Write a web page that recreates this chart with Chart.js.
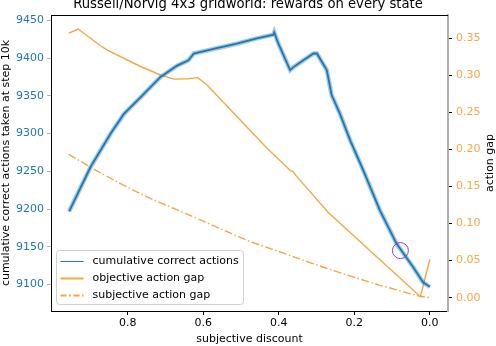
<!DOCTYPE html>
<html>
<head>
<meta charset="utf-8">
<script src="https://cdn.jsdelivr.net/npm/chart.js@4.4.1/dist/chart.umd.min.js"></script>
<style>
  html, body { margin: 0; padding: 0; background: #fff; }
  canvas { display: block; }
</style>
</head>
<body>
<canvas id="gridworldChart" width="496" height="346"></canvas>
<script>
// values
const discountCorrect = [0.955, 0.898, 0.845, 0.810, 0.766, 0.713, 0.669, 0.639, 0.625, 0.564, 0.511, 0.458, 0.414, 0.412, 0.401, 0.370, 0.361, 0.335, 0.308, 0.299, 0.273, 0.260, 0.238, 0.211, 0.176, 0.132, 0.088, 0.044, 0.018, 0.0];
const correctActions = [9197, 9256, 9300, 9326, 9348, 9375, 9390, 9397, 9406, 9413, 9419, 9426, 9431, 9434, 9419, 9384, 9388, 9397, 9406, 9406, 9384, 9351, 9326, 9291, 9251, 9198, 9154, 9123, 9103, 9097];

const discountObjective = [0.956, 0.931, 0.872, 0.854, 0.766, 0.713, 0.678, 0.640, 0.614, 0.590, 0.431, 0.368, 0.362, 0.355, 0.269, 0.025, 0.0];
const objectiveGap = [0.357, 0.3626, 0.340, 0.334, 0.312, 0.3005, 0.295, 0.2955, 0.297, 0.287, 0.2016, 0.171, 0.170, 0.165, 0.115, 0.0013, 0.0518];

const discountSubjective = [0.956, 0.885, 0.795, 0.740, 0.597, 0.476, 0.398, 0.310, 0.222, 0.134, 0.028, 0.0];
const subjectiveGap = [0.1935, 0.172, 0.1476, 0.134, 0.1026, 0.0756, 0.062, 0.046, 0.031, 0.017, 0.002, 0.0];

const markerDiscount = [0.078];
const markerCorrect = [9145];

const xTicks = [0.0, 0.2, 0.4, 0.6, 0.8];
const leftTicks = [9100, 9150, 9200, 9250, 9300, 9350, 9400, 9450];
const rightTicks = [0.00, 0.05, 0.10, 0.15, 0.20, 0.25, 0.30, 0.35];

const BLUE = '#1f77b4';
const ORANGE = '#f5a742';
const FONT = 'DejaVu Sans';
const FS = 11;

function pairs(xs, ys) {
    return xs.map((x, i) => ({ x: x, y: ys[i] }));
}

const legendItems = [
    { label: 'cumulative correct actions', color: BLUE, width: 1, dash: [] },
    { label: 'objective action gap', color: ORANGE, width: 2, dash: [] },
    { label: 'subjective action gap', color: ORANGE, width: 2, dash: [6, 2.5, 2, 2.5] }
];

// top spine, right axis title (reads upwards) and legend box in the lower left corner
const framePlugin = {
    id: 'frame',
    afterDraw(chart) {
        const ctx = chart.ctx;
        const a = chart.chartArea;
        ctx.save();
        ctx.strokeStyle = '#000';
        ctx.lineWidth = 1;
        ctx.beginPath();
        ctx.moveTo(a.left, a.top + 0.5);
        ctx.lineTo(a.right, a.top + 0.5);
        ctx.stroke();

        ctx.save();
        ctx.translate(chart.width - 6, (a.top + a.bottom) / 2);
        ctx.rotate(-Math.PI / 2);
        ctx.font = FS + 'px "' + FONT + '"';
        ctx.fillStyle = '#000';
        ctx.textAlign = 'center';
        ctx.textBaseline = 'middle';
        ctx.fillText('action gap', 0, 0);
        ctx.restore();

        const bx = a.left + 5.5, by = a.bottom - 60.5, bw = 187, bh = 54;
        ctx.beginPath();
        ctx.roundRect(bx, by, bw, bh, 3);
        ctx.fillStyle = 'rgba(255,255,255,0.8)';
        ctx.fill();
        ctx.strokeStyle = '#d0d0d0';
        ctx.stroke();

        ctx.font = FS + 'px "' + FONT + '"';
        ctx.textBaseline = 'middle';
        legendItems.forEach((item, i) => {
            const y = by + 11 + i * 17;
            ctx.beginPath();
            ctx.setLineDash(item.dash);
            ctx.strokeStyle = item.color;
            ctx.lineWidth = item.width;
            ctx.moveTo(bx + 4, y);
            ctx.lineTo(bx + 27, y);
            ctx.stroke();
            ctx.setLineDash([]);
            ctx.fillStyle = '#000';
            ctx.fillText(item.label, bx + 36, y);
        });
        ctx.restore();
    }
};

const ctx = document.getElementById('gridworldChart').getContext('2d');
new Chart(ctx, {
    type: 'line',
    data: {
        datasets: [
            {
                label: 'marker',
                data: pairs(markerDiscount, markerCorrect),
                yAxisID: 'y',
                showLine: false,
                pointRadius: 8,
                pointBorderColor: '#9b35d3',
                pointBackgroundColor: 'rgba(0,0,0,0)',
                pointBorderWidth: 1
            },
            {
                label: 'cumulative correct actions',
                data: pairs(discountCorrect, correctActions),
                yAxisID: 'y',
                borderColor: BLUE,
                borderWidth: 1.8,
                pointRadius: 0,
                tension: 0
            },
            {
                label: 'band',
                data: pairs(discountCorrect, correctActions),
                yAxisID: 'y',
                borderColor: 'rgba(31,119,180,0.4)',
                borderWidth: 4.5,
                pointRadius: 0,
                tension: 0
            },
            {
                label: 'objective action gap',
                data: pairs(discountObjective, objectiveGap),
                yAxisID: 'y2',
                borderColor: ORANGE,
                borderWidth: 1.4,
                pointRadius: 0,
                tension: 0
            },
            {
                label: 'subjective action gap',
                data: pairs(discountSubjective, subjectiveGap),
                yAxisID: 'y2',
                borderColor: ORANGE,
                borderWidth: 1.4,
                borderDash: [8, 2.5, 1.5, 2.5],
                pointRadius: 0,
                tension: 0
            }
        ]
    },
    options: {
        responsive: false,
        animation: false,
        devicePixelRatio: 1,
        layout: { padding: 0 },
        plugins: {
            legend: { display: false },
            tooltip: { enabled: false },
            title: {
                display: true,
                text: 'Russell/Norvig 4x3 gridworld: rewards on every state',
                color: '#000',
                font: { family: FONT, size: 13.2, weight: 'normal', lineHeight: 1 },
                padding: { top: -2.2, bottom: 4 }
            }
        },
        scales: {
            x: {
                type: 'linear',
                reverse: true,
                min: -0.048,
                max: 1.003,
                afterBuildTicks: s => { s.ticks = xTicks.map(v => ({ value: v })); },
                afterFit: s => { s.height = 35; },
                ticks: {
                    color: '#000',
                    font: { family: FONT, size: FS },
                    padding: 2,
                    maxRotation: 0,
                    callback: v => v.toFixed(1)
                },
                grid: { drawOnChartArea: false, drawTicks: true, tickLength: 4, color: '#000' },
                border: { display: true, color: '#000', width: 1 },
                title: {
                    display: true,
                    text: 'subjective discount',
                    color: '#000',
                    font: { family: FONT, size: FS },
                    padding: 0
                }
            },
            y: {
                position: 'left',
                min: 9065,
                max: 9457,
                afterBuildTicks: s => { s.ticks = leftTicks.map(v => ({ value: v })); },
                afterFit: s => { s.width = 51; },
                ticks: {
                    color: BLUE,
                    font: { family: FONT, size: FS },
                    padding: 3,
                    callback: v => String(v)
                },
                grid: { drawOnChartArea: false, drawTicks: true, tickLength: 4, color: '#b0b0b0' },
                border: { display: true, color: '#000', width: 1 },
                title: {
                    display: true,
                    text: 'cumulative correct actions taken at step 10k',
                    color: '#000',
                    font: { family: FONT, size: FS },
                    padding: 0
                }
            },
            y2: {
                position: 'right',
                min: -0.018,
                max: 0.3815,
                afterBuildTicks: s => { s.ticks = rightTicks.map(v => ({ value: v })); },
                afterFit: s => { s.width = 48; },
                ticks: {
                    color: ORANGE,
                    font: { family: FONT, size: FS },
                    padding: 4,
                    callback: v => v.toFixed(2)
                },
                grid: { drawOnChartArea: false, drawTicks: true, tickLength: 4, color: '#000' },
                border: { display: true, color: '#b0b0b0', width: 2 },
                title: { display: false }
            }
        }
    },
    plugins: [framePlugin]
});
</script>
</body>
</html>
